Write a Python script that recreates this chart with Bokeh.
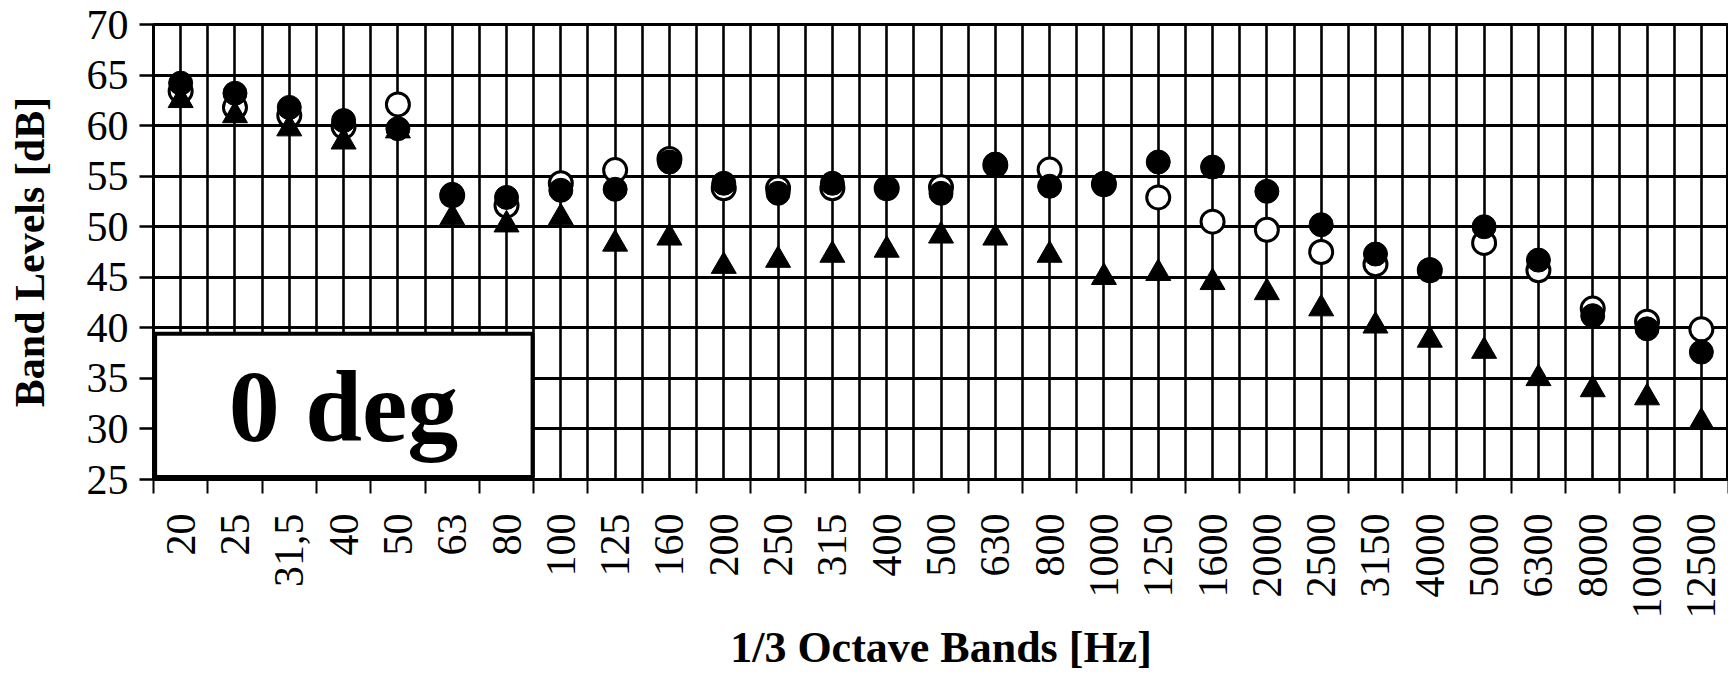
import math
from bokeh.plotting import figure
from bokeh.models import FixedTicker, Range1d
from bokeh.embed import file_html
from bokeh.resources import INLINE
from bokeh.core.properties import value

bands = ["20", "25", "31,5", "40", "50", "63", "80", "100", "125", "160",
         "200", "250", "315", "400", "500", "630", "800", "1000", "1250", "1600",
         "2000", "2500", "3150", "4000", "5000", "6300", "8000", "10000", "12500"]

filled_circle = [64.2, 63.2, 61.8, 60.5, 59.7, 53.2, 52.9, 53.6, 53.7, 56.4,
                 54.3, 53.3, 54.3, 53.8, 53.3, 56.2, 54.0, 54.3, 56.4, 55.9,
                 53.5, 50.2, 47.3, 45.75, 50.0, 46.7, 41.2, 39.9, 37.6]

open_circle = [63.4, 61.8, 61.0, 59.9, 62.1, 53.1, 52.1, 54.3, 55.6, 56.7,
               53.8, 53.8, 53.8, 53.8, 53.9, 56.1, 55.65, 54.2, 52.9, 50.5,
               49.7, 47.5, 46.3, 45.7, 48.4, 45.7, 41.9, 40.6, 39.85]

triangle = [62.5, 61.0, 59.7, 58.4, 59.5, 50.9, 50.2, 50.9, 48.3, 48.9,
            46.1, 46.7, 47.2, 47.7, 49.1, 48.9, 47.2, 45.0, 45.4, 44.5,
            43.5, 41.9, 40.2, 38.8, 37.7, 35.0, 33.9, 33.1, 30.7]

y_ticks = [25, 30, 35, 40, 45, 50, 55, 60, 65, 70]

n = len(bands)
xs = [i + 0.5 for i in range(n)]
SERIF = "Liberation Serif"

p = figure(width=1728, height=674, output_backend="svg", toolbar_location=None,
           x_range=Range1d(0, n), y_range=Range1d(25, 70),
           min_border_left=153, min_border_right=0, min_border_top=24,
           min_border_bottom=188)
p.background_fill_color = "white"
p.border_fill_color = "white"
p.outline_line_color = "black"
p.outline_line_width = 3

# grid lines: every half category vertically, every 5 dB horizontally
p.xgrid.ticker = FixedTicker(ticks=[k * 0.5 for k in range(2 * n + 1)])
p.xgrid.grid_line_color = "black"
p.xgrid.grid_line_width = 2.6
p.ygrid.ticker = FixedTicker(ticks=y_ticks)
p.ygrid.grid_line_color = "black"
p.ygrid.grid_line_width = 2.8

# x axis
xa = p.xaxis[0]
xa.ticker = FixedTicker(ticks=xs, minor_ticks=list(range(n + 1)))
xa.major_label_overrides = {x: b for x, b in zip(xs, bands)}
xa.major_label_orientation = math.pi / 2
xa.major_tick_out = 0
xa.major_tick_in = 0
xa.minor_tick_out = 14
xa.minor_tick_in = 0
xa.minor_tick_line_color = "black"
xa.minor_tick_line_width = 2
xa.axis_line_color = "black"
xa.axis_line_width = 3
xa.major_label_standoff = 20
xa.major_label_text_font = SERIF
xa.major_label_text_font_size = "42px"
xa.major_label_text_color = "black"
xa.axis_label = "1/3 Octave Bands [Hz]"
xa.axis_label_text_font = SERIF
xa.axis_label_text_font_style = "bold"
xa.axis_label_text_font_size = "44px"
xa.axis_label_text_color = "black"
xa.axis_label_standoff = 1

# y axis
ya = p.yaxis[0]
ya.ticker = FixedTicker(ticks=y_ticks, minor_ticks=[])
ya.major_tick_out = 14
ya.major_tick_in = 0
ya.major_tick_line_color = "black"
ya.major_tick_line_width = 2.5
ya.minor_tick_out = 0
ya.minor_tick_in = 0
ya.axis_line_color = "black"
ya.axis_line_width = 3
ya.major_label_standoff = 11
ya.major_label_text_font = SERIF
ya.major_label_text_font_size = "42px"
ya.major_label_text_color = "black"
ya.axis_label = "Band Levels [dB]"
ya.axis_label_text_font = SERIF
ya.axis_label_text_font_style = "bold"
ya.axis_label_text_font_size = "42px"
ya.axis_label_text_color = "black"
ya.axis_label_standoff = 31

# "0 deg" box
p.quad(left=0.03, right=6.98, bottom=25.24, top=39.42,
       fill_color="white", line_color="black", line_width=4)
p.text(x=[3.5], y=[32.2], text=["0 deg"], text_font=value(SERIF),
       text_font_style="bold", text_font_size="102px", text_color="black",
       text_align="center", text_baseline="alphabetic")

# data series
p.scatter(xs, open_circle, marker="circle", size=23, fill_color="white",
          line_color="black", line_width=3)
p.scatter(xs, triangle, marker="triangle", size=25, fill_color="black",
          line_color="black", line_width=1)
p.scatter(xs, filled_circle, marker="circle", size=24, fill_color="black",
          line_color="black", line_width=1)

open("out.html", "w").write(file_html(p, INLINE))
